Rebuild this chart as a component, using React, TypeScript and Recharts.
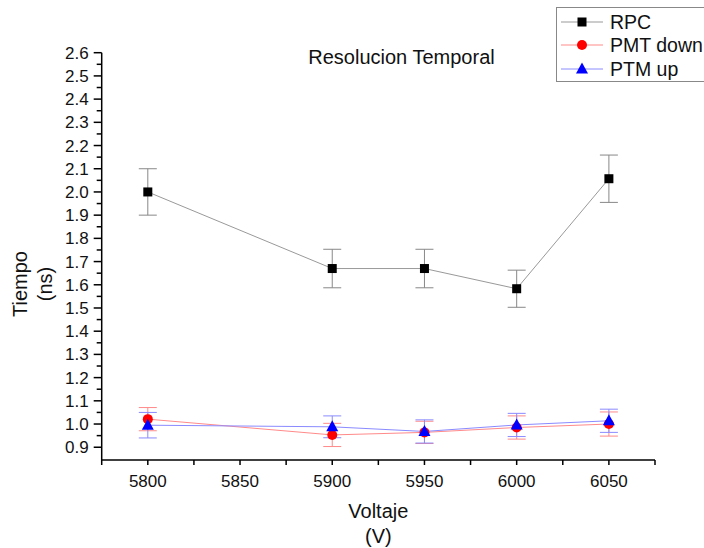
import React from 'react';
import { LineChart, Line, XAxis, YAxis, ErrorBar, Legend } from 'recharts';

const voltages = [5800, 5900, 5950, 6000, 6050];
const rpc = [2.0, 1.67, 1.67, 1.583, 2.057];
const rpcErr = [0.1, 0.083, 0.083, 0.08, 0.102];
const pmtDown = [1.021, 0.953, 0.964, 0.985, 1.0];
const pmtDownErr = [0.05, 0.05, 0.048, 0.05, 0.052];
const ptmUp = [0.995, 0.988, 0.968, 0.996, 1.014];
const ptmUpErr = [0.055, 0.047, 0.05, 0.05, 0.05];

const seriesNames = ['RPC', 'PMT down', 'PTM up'];

const xTicks = [5775, 5800, 5825, 5850, 5875, 5900, 5925, 5950, 5975, 6000, 6025, 6050, 6075];
const xTickLabels = [5800, 5850, 5900, 5950, 6000, 6050];
const yTicks = [
  0.9, 0.95, 1.0, 1.05, 1.1, 1.15, 1.2, 1.25, 1.3, 1.35, 1.4, 1.45, 1.5, 1.55, 1.6, 1.65, 1.7, 1.75,
  1.8, 1.85, 1.9, 1.95, 2.0, 2.05, 2.1, 2.15, 2.2, 2.25, 2.3, 2.35, 2.4, 2.45, 2.5, 2.55, 2.6,
];

const title = 'Resolucion Temporal';
const xLabel = ['Voltaje', '(V)'];
const yLabel = ['Tiempo', '(ns)'];

const data = voltages.map((v, i) => ({
  v,
  rpc: rpc[i],
  rpcErr: rpcErr[i],
  pmtDown: pmtDown[i],
  pmtDownErr: pmtDownErr[i],
  ptmUp: ptmUp[i],
  ptmUpErr: ptmUpErr[i],
}));

const FONT = '"Liberation Sans", Arial, sans-serif';
const TEXT = '#111';

const XTick = (props: any) => {
  const { x, y, payload } = props;
  const val = payload.value;
  const showLabel = xTickLabels.includes(val);
  return (
    <g>
      <line x1={x} x2={x} y1={y} y2={y + 5} stroke="#000" strokeWidth={1.5} />
      {showLabel && (
        <text x={x} y={y + 27} textAnchor="middle" fontSize={17} fontFamily={FONT} fill={TEXT}>
          {val}
        </text>
      )}
    </g>
  );
};

const YTick = (props: any) => {
  const { x, y, payload } = props;
  const val = payload.value as number;
  const major = Math.abs(val * 10 - Math.round(val * 10)) < 1e-6;
  return (
    <g>
      <line x1={x - (major ? 8 : 5)} x2={x} y1={y} y2={y} stroke="#000" strokeWidth={1.5} />
      {major && (
        <text x={x - 13} y={y + 6} textAnchor="end" fontSize={17} fontFamily={FONT} fill={TEXT}>
          {val.toFixed(1)}
        </text>
      )}
    </g>
  );
};

const SquareDot = (p: any) =>
  p.cx == null ? <g key={`s${p.index}`} /> : (
    <rect key={`s${p.index}`} x={p.cx - 4.5} y={p.cy - 4.5} width={9} height={9} fill="#000" />
  );
const CircleDot = (p: any) =>
  p.cx == null ? <g key={`c${p.index}`} /> : <circle key={`c${p.index}`} cx={p.cx} cy={p.cy} r={5} fill="#ff0000" />;
const TriDot = (p: any) =>
  p.cx == null ? <g key={`t${p.index}`} /> : (
    <polygon
      key={`t${p.index}`}
      points={`${p.cx},${p.cy - 6.5} ${p.cx - 6},${p.cy + 4.5} ${p.cx + 6},${p.cy + 4.5}`}
      fill="#0000ff"
    />
  );

const markerFor = (i: number, cx: number, cy: number) => {
  if (i === 0) return <rect x={cx - 4.5} y={cy - 4.5} width={9} height={9} fill="#000" />;
  if (i === 1) return <circle cx={cx} cy={cy} r={5} fill="#ff0000" />;
  return <polygon points={`${cx},${cy - 6.5} ${cx - 6},${cy + 4.5} ${cx + 6},${cy + 4.5}`} fill="#0000ff" />;
};

const legendLineColors = ['#999999', '#ff8a8a', '#8a8aff'];

const LegendBox = () => {
  const rows = [15, 38, 62];
  return (
    <svg width={148} height={80} style={{ display: 'block', overflow: 'hidden' }}>
      <rect x={0.5} y={0.5} width={160} height={74} fill="#fff" stroke="#888" strokeWidth={1} />
      {seriesNames.map((name, i) => (
        <g key={name}>
          <line x1={5} x2={47} y1={rows[i]} y2={rows[i]} stroke={legendLineColors[i]} strokeWidth={1} />
          {markerFor(i, 26, rows[i])}
          <text x={54} y={rows[i] + 7} fontSize={19.5} fontFamily={FONT} fill={TEXT}>
            {name}
          </text>
        </g>
      ))}
    </svg>
  );
};

const XLabel = (props: any) => {
  const vb = props.viewBox;
  const cx = vb.x + vb.width / 2;
  return (
    <g>
      <text x={cx} y={vb.y + 58} textAnchor="middle" fontSize={20} fontFamily={FONT} fill={TEXT}>
        {xLabel[0]}
      </text>
      <text x={cx} y={vb.y + 83} textAnchor="middle" fontSize={20} fontFamily={FONT} fill={TEXT}>
        {xLabel[1]}
      </text>
    </g>
  );
};

const YLabel = () => {
  const cy = 284;
  return (
    <g>
      <text x={27} y={cy} transform={`rotate(-90, 27, ${cy})`} textAnchor="middle" fontSize={20} fontFamily={FONT} fill={TEXT}>
        {yLabel[0]}
      </text>
      <text x={52} y={cy} transform={`rotate(-90, 52, ${cy})`} textAnchor="middle" fontSize={20} fontFamily={FONT} fill={TEXT}>
        {yLabel[1]}
      </text>
    </g>
  );
};

export default function App() {
  return (
    <div style={{ position: 'absolute', left: 0, top: 0, width: 704, height: 548, overflow: 'hidden', background: '#fff' }}>
      <LineChart width={704} height={548} data={data} margin={{ top: 52.7, right: 49, left: 0, bottom: 0 }}>
        <XAxis
          dataKey="v"
          type="number"
          domain={[5775, 6075]}
          ticks={xTicks}
          interval={0}
          height={88}
          tickSize={0}
          tickMargin={0}
          tick={<XTick />}
          stroke="#000"
          strokeWidth={1.5}
          allowDataOverflow
          label={<XLabel />}
        />
        <YAxis
          type="number"
          domain={[0.845, 2.6]}
          ticks={yTicks}
          interval={0}
          width={101.7}
          tickSize={0}
          tickMargin={0}
          tick={<YTick />}
          stroke="#000"
          strokeWidth={1.5}
          allowDataOverflow
          label={<YLabel />}
        />
        <Legend
          layout="horizontal"
          verticalAlign="middle"
          align="center"
          wrapperStyle={{ left: 556, top: 7, width: 148, height: 80 }}
          content={() => <LegendBox />}
        />
        <Line
          name={seriesNames[0]}
          dataKey="rpc"
          type="linear"
          stroke="#999999"
          strokeWidth={1}
          dot={SquareDot}
          activeDot={false}
          isAnimationActive={false}
        >
          <ErrorBar dataKey="rpcErr" width={9} stroke="#888" strokeWidth={1} direction="y" isAnimationActive={false} />
        </Line>
        <Line
          name={seriesNames[1]}
          dataKey="pmtDown"
          type="linear"
          stroke="#ff8a8a"
          strokeWidth={1}
          dot={CircleDot}
          activeDot={false}
          isAnimationActive={false}
        >
          <ErrorBar dataKey="pmtDownErr" width={9} stroke="#ff8a8a" strokeWidth={1} direction="y" isAnimationActive={false} />
        </Line>
        <Line
          name={seriesNames[2]}
          dataKey="ptmUp"
          type="linear"
          stroke="#8a8aff"
          strokeWidth={1}
          dot={TriDot}
          activeDot={false}
          isAnimationActive={false}
        >
          <ErrorBar dataKey="ptmUpErr" width={9} stroke="#8a8aff" strokeWidth={1} direction="y" isAnimationActive={false} />
        </Line>
      </LineChart>
      <div
        style={{
          position: 'absolute',
          left: 0,
          top: 46,
          width: 803,
          textAlign: 'center',
          fontFamily: FONT,
          fontSize: 20,
          color: TEXT,
          lineHeight: '22px',
          pointerEvents: 'none',
        }}
      >
        {title}
      </div>
    </div>
  );
}
